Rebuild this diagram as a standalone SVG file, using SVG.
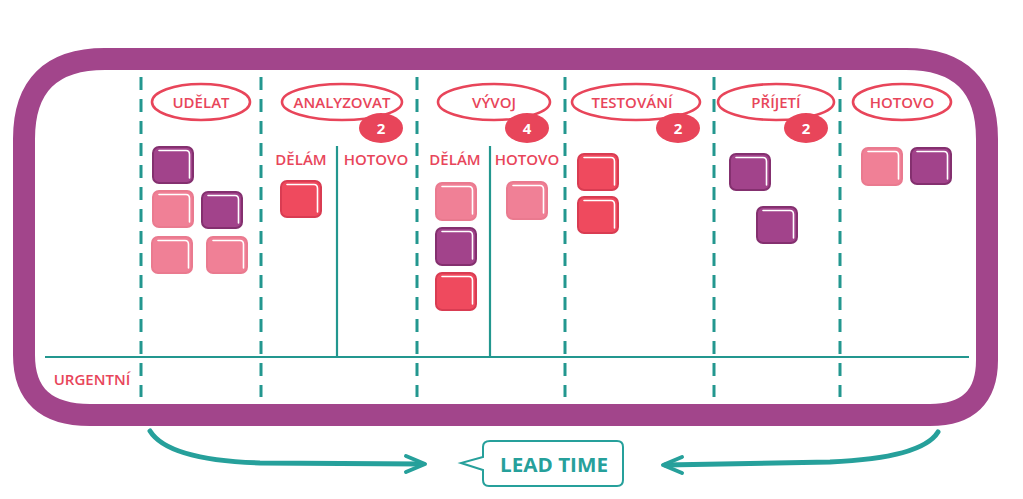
<svg xmlns="http://www.w3.org/2000/svg" width="1023" height="499" viewBox="0 0 1023 499">
<style>
.frame{fill:none;stroke:#a2458b;stroke-width:22;stroke-linejoin:round}
.dash{stroke:#23978f;stroke-width:3;stroke-dasharray:13 9}
.solid{stroke:#23978f;stroke-width:2.2}
.hdr{fill:none;stroke:#e8455a;stroke-width:2.6}
.badge{fill:#e8455a}
.lbl{font-family:"Open Sans","Liberation Sans",sans-serif;font-weight:600;font-size:15px;fill:#e8455a;text-anchor:middle}
.num{font-family:"Open Sans","Liberation Sans",sans-serif;font-weight:700;font-size:15px;fill:#fff;text-anchor:middle}
.hl{fill:none;stroke:#fff;stroke-width:1.6;stroke-linecap:round}
.pu{fill:#a2438b;stroke:#84306f;stroke-width:2}
.pk{fill:#f08096;stroke:#ea7a8f;stroke-width:2}
.rd{fill:#ef4a5e;stroke:#d93c52;stroke-width:2}
.arr{fill:none;stroke:#26a09b;stroke-linecap:round;stroke-linejoin:round}
.lt{font-family:"Open Sans","Liberation Sans",sans-serif;font-weight:700;font-size:20px;fill:#26a09b;text-anchor:middle}
</style>
<defs>
<g id="hlp"><path class="hl" d="M6,3.5 H33 Q36.5,3.5 36.5,7.5 V31"/></g>
</defs>
<rect width="1023" height="499" fill="#fff"/>
<g id="board">
<path class="frame" d="M105,59 L906,59 Q987,59 987,139 L987,360 Q987,415 930,415 L90,415 Q24,415 24,355 L24,139 Q24,59 105,59 Z"/>
<line class="solid" x1="45" y1="357" x2="969" y2="357"/>
<line class="dash" x1="141" y1="77" x2="141" y2="397"/>
<line class="dash" x1="261" y1="77" x2="261" y2="397"/>
<line class="dash" x1="417" y1="77" x2="417" y2="397"/>
<line class="dash" x1="565" y1="77" x2="565" y2="397"/>
<line class="dash" x1="714" y1="77" x2="714" y2="397"/>
<line class="dash" x1="840" y1="77" x2="840" y2="397"/>
<line class="solid" x1="337" y1="146" x2="337" y2="357"/>
<line class="solid" x1="490" y1="146" x2="490" y2="357"/>
<text class="lbl" x="92" y="385">URGENTNÍ</text>
</g>
<g id="col-udelat">
<ellipse class="hdr" cx="201" cy="102" rx="49" ry="18"/>
<text class="lbl" x="201" y="108">UDĚLAT</text>
<g transform="translate(153,147)"><rect class="pu" width="40" height="36" rx="6"/><use href="#hlp"/></g>
<g transform="translate(153,191)"><rect class="pk" width="40" height="36" rx="6"/><use href="#hlp"/></g>
<g transform="translate(202,192)"><rect class="pu" width="40" height="36" rx="6"/><use href="#hlp"/></g>
<g transform="translate(152,237)"><rect class="pk" width="40" height="36" rx="6"/><use href="#hlp"/></g>
<g transform="translate(207,237)"><rect class="pk" width="40" height="36" rx="6"/><use href="#hlp"/></g>
</g>
<g id="col-analyzovat">
<ellipse class="hdr" cx="342" cy="102" rx="60" ry="18"/>
<text class="lbl" x="342" y="108">ANALYZOVAT</text>
<ellipse class="badge" cx="381" cy="128" rx="22" ry="15"/>
<text class="num" x="381" y="134">2</text>
<text class="lbl" x="301" y="165">DĚLÁM</text>
<text class="lbl" x="376" y="165">HOTOVO</text>
<g transform="translate(281,181)"><rect class="rd" width="40" height="36" rx="6"/><use href="#hlp"/></g>
</g>
<g id="col-vyvoj">
<ellipse class="hdr" cx="494" cy="102" rx="56" ry="18"/>
<text class="lbl" x="494" y="108">VÝVOJ</text>
<ellipse class="badge" cx="527" cy="128" rx="22" ry="15"/>
<text class="num" x="527" y="134">4</text>
<text class="lbl" x="455" y="165">DĚLÁM</text>
<text class="lbl" x="527" y="165">HOTOVO</text>
<g transform="translate(436,183)"><rect class="pk" width="40" height="37" rx="6"/><use href="#hlp"/></g>
<g transform="translate(436,228)"><rect class="pu" width="40" height="37" rx="6"/><use href="#hlp"/></g>
<g transform="translate(436,273)"><rect class="rd" width="40" height="37" rx="6"/><use href="#hlp"/></g>
<g transform="translate(507,182)"><rect class="pk" width="40" height="37" rx="6"/><use href="#hlp"/></g>
</g>
<g id="col-testovani">
<ellipse class="hdr" cx="636" cy="102" rx="64" ry="18"/>
<text class="lbl" x="632" y="108">TESTOVÁNÍ</text>
<ellipse class="badge" cx="678" cy="128" rx="22" ry="15"/>
<text class="num" x="678" y="134">2</text>
<g transform="translate(578,154)"><rect class="rd" width="40" height="36" rx="6"/><use href="#hlp"/></g>
<g transform="translate(578,197)"><rect class="rd" width="40" height="36" rx="6"/><use href="#hlp"/></g>
</g>
<g id="col-prijeti">
<ellipse class="hdr" cx="776" cy="102" rx="58" ry="18"/>
<text class="lbl" x="776" y="108">PŘÍJETÍ</text>
<ellipse class="badge" cx="806" cy="128" rx="22" ry="15"/>
<text class="num" x="806" y="134">2</text>
<g transform="translate(730,154)"><rect class="pu" width="40" height="36" rx="6"/><use href="#hlp"/></g>
<g transform="translate(757,207)"><rect class="pu" width="40" height="36" rx="6"/><use href="#hlp"/></g>
</g>
<g id="col-hotovo">
<ellipse class="hdr" cx="902" cy="102" rx="49" ry="18"/>
<text class="lbl" x="902" y="108">HOTOVO</text>
<g transform="translate(862,148)"><rect class="pk" width="40" height="37" rx="6"/><use href="#hlp"/></g>
<g transform="translate(911,148)"><rect class="pu" width="40" height="36" rx="6"/><use href="#hlp"/></g>
</g>
<g id="lead-time">
<path d="M490,441 H617 Q623,441 623,447 V480 Q623,486 617,486 H489 Q483,486 483,480 V470 L461,463 L483,457 V447 Q483,441 490,441 Z" fill="#fff" stroke="#26a09b" stroke-width="2"/>
<text class="lt" x="554" y="472" textLength="108" lengthAdjust="spacingAndGlyphs">LEAD TIME</text>
</g>
<g id="connectors">
<path class="arr" stroke-width="5" d="M150,431 Q168,460 260,463 L422,464"/>
<path class="arr" stroke-width="4" d="M406,456 L425,464 L406,472"/>
<path class="arr" stroke-width="5" d="M938,432 Q922,458 830,462 L665,465"/>
<path class="arr" stroke-width="4" d="M682,457 L663,465 L682,473"/>
</g>
</svg>
